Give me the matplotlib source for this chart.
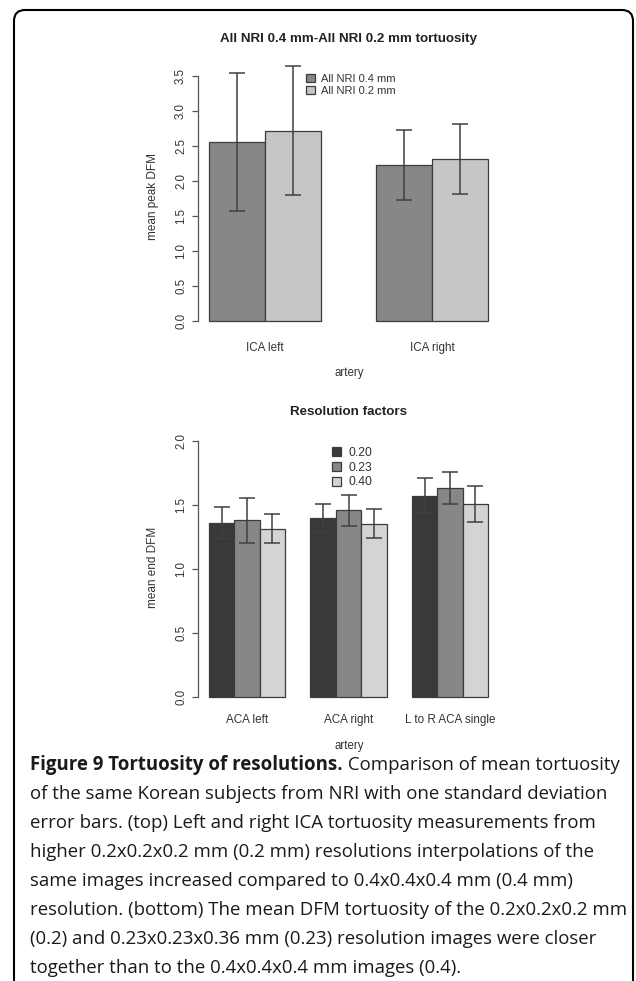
import matplotlib
matplotlib.use("Agg")
import matplotlib.pyplot as plt
import numpy as np
from matplotlib.patches import PathPatch
from matplotlib.path import Path

# top panel data
top_groups = ["ICA left", "ICA right"]
top_series = ["All NRI 0.4 mm", "All NRI 0.2 mm"]
top_means_04 = [2.56, 2.23]
top_sd_04 = [0.99, 0.50]
top_means_02 = [2.72, 2.31]
top_sd_02 = [0.92, 0.50]

# bottom panel data
bot_groups = ["ACA left", "ACA right", "L to R ACA single"]
bot_series = ["0.20", "0.23", "0.40"]
bot_means_020 = [1.365, 1.40, 1.575]
bot_sd_020 = [0.125, 0.11, 0.139]
bot_means_023 = [1.383, 1.46, 1.637]
bot_sd_023 = [0.177, 0.122, 0.125]
bot_means_040 = [1.318, 1.355, 1.511]
bot_sd_040 = [0.112, 0.114, 0.142]

caption_bold = "Figure 9 Tortuosity of resolutions."
caption_lines = [
    " Comparison of mean tortuosity",
    "of the same Korean subjects from NRI with one standard deviation",
    "error bars. (top) Left and right ICA tortuosity measurements from",
    "higher 0.2x0.2x0.2 mm (0.2 mm) resolutions interpolations of the",
    "same images increased compared to 0.4x0.4x0.4 mm (0.4 mm)",
    "resolution. (bottom) The mean DFM tortuosity of the 0.2x0.2x0.2 mm",
    "(0.2) and 0.23x0.23x0.36 mm (0.23) resolution images were closer",
    "together than to the 0.4x0.4x0.4 mm images (0.4).",
]

W, H = 636, 981
fig = plt.figure(figsize=(W / 100, H / 100), dpi=100)

def fx(x):
    return x / W

def fy(y):
    return 1 - y / H

plot_font = ["Liberation Sans", "DejaVu Sans"]
txt_col = "#333333"
ax_col = "#555555"


def barplot(ax, groups, series, means, sds, colors, ymax, yticks):
    n = len(series)
    # R barplot beside=TRUE: bar width 1, one bar gap between groups
    starts = np.arange(len(groups)) * (n + 1) + 1
    for i in range(n):
        xs = starts + i + 0.5
        ax.bar(xs, means[i], width=1.0, color=colors[i], edgecolor="#3c3c3c",
               linewidth=0.9, label=series[i], zorder=2)
        ax.errorbar(xs, means[i], yerr=sds[i], fmt="none", ecolor="#404040",
                    elinewidth=1.1, capsize=5.5, capthick=1.1, zorder=3,
                    clip_on=False)
    span = starts[-1] + n - starts[0]
    ax.set_xlim(starts[0] - 0.04 * span, starts[-1] + n + 0.04 * span)
    ax.set_xticks(starts + n / 2)
    ax.set_xticklabels(groups)
    ax.set_yticks(yticks)
    ax.set_yticklabels(["%.1f" % t for t in yticks])
    for s in ["top", "right", "bottom"]:
        ax.spines[s].set_visible(False)
    ax.spines["left"].set_bounds(0, ymax)
    ax.spines["left"].set_color(ax_col)
    ax.spines["left"].set_linewidth(0.9)
    ax.tick_params(axis="y", length=4.3, width=0.9, color=ax_col,
                   labelcolor=txt_col, labelsize=8.3, pad=3.6)
    for lab in ax.get_yticklabels():
        lab.set_rotation(90)
        lab.set_va("center")
        lab.set_family(plot_font)
    ax.tick_params(axis="x", length=0, labelcolor=txt_col, labelsize=8.4)
    for lab in ax.get_xticklabels():
        lab.set_family(plot_font)


# top panel
ax1 = fig.add_axes([fx(198), fy(331.5), (499 - 198) / W, (331.5 - 62) / H])
ax1.set_ylim(-0.15, 3.7)
barplot(ax1, top_groups, top_series,
        [top_means_04, top_means_02], [top_sd_04, top_sd_02],
        ["#878787", "#c6c6c6"], 3.5, np.arange(0, 3.51, 0.5))
ax1.tick_params(axis="x", pad=7.5)
leg1 = ax1.legend(loc="upper left", bbox_to_anchor=(fx(306), fy(74)),
                  bbox_transform=fig.transFigure, frameon=False,
                  prop={"family": plot_font, "size": 8},
                  handlelength=0.8, handleheight=0.7, handletextpad=0.55,
                  labelspacing=0.2, borderpad=0, borderaxespad=0)
for t in leg1.get_texts():
    t.set_color(txt_col)

fig.text(fx(349), fy(39), "All NRI 0.4 mm-All NRI 0.2 mm tortuosity",
         ha="center", va="center", fontsize=9.6, fontweight="bold",
         family=plot_font, color="#222222")
fig.text(fx(153), fy(197), "mean peak DFM", rotation=90, ha="center",
         va="center", fontsize=8.5, family=plot_font, color=txt_col)
fig.text(fx(349), fy(373), "artery", ha="center", va="center",
         fontsize=8.3, family=plot_font, color=txt_col)

# bottom panel
ax2 = fig.add_axes([fx(198), fy(707.2), (499 - 198) / W, (707.2 - 431.2) / H])
ax2.set_ylim(-0.08, 2.08)
barplot(ax2, bot_groups, bot_series,
        [bot_means_020, bot_means_023, bot_means_040],
        [bot_sd_020, bot_sd_023, bot_sd_040],
        ["#3a3838", "#878787", "#d4d4d4"], 2.0, np.arange(0, 2.01, 0.5))
ax2.tick_params(axis="x", pad=5)
leg2 = ax2.legend(loc="upper left", bbox_to_anchor=(fx(332), fy(447)),
                  bbox_transform=fig.transFigure, frameon=False,
                  prop={"family": plot_font, "size": 8.8},
                  handlelength=0.75, handleheight=0.75, handletextpad=0.6,
                  labelspacing=0.22, borderpad=0, borderaxespad=0)
for t in leg2.get_texts():
    t.set_color(txt_col)

fig.text(fx(349), fy(412), "Resolution factors", ha="center", va="center",
         fontsize=9.6, fontweight="bold", family=plot_font, color="#222222")
fig.text(fx(153), fy(567), "mean end DFM", rotation=90, ha="center",
         va="center", fontsize=8.5, family=plot_font, color=txt_col)
fig.text(fx(349), fy(746), "artery", ha="center", va="center",
         fontsize=8.3, family=plot_font, color=txt_col)

# frame with rounded top corners, open at bottom
l, r, t, rad = 14, 633, 10, 11
verts = [(l, H), (l, t + rad), (l, t), (l + rad, t), (r - rad, t), (r, t),
         (r, t + rad), (r, H)]
codes = [Path.MOVETO, Path.LINETO, Path.CURVE3, Path.CURVE3, Path.LINETO,
         Path.CURVE3, Path.CURVE3, Path.LINETO]
verts = [(fx(x), fy(y)) for x, y in verts]
fig.patches.append(PathPatch(Path(verts, codes), transform=fig.transFigure,
                             fill=False, edgecolor="black", linewidth=1.5))

# caption, sized so the widest line spans the text column
cap_font = ["Open Sans", "DejaVu Sans"]
cap_col = "#1a1a1a"
x0, y0, dy = 30, 765, 29
target_w = 597
renderer = fig.canvas.get_renderer()


def line_width(parts, size):
    w = 0
    for txt, weight in parts:
        p = fig.text(0, 0, txt, fontsize=size, fontweight=weight,
                     family=cap_font)
        w += p.get_window_extent(renderer).width
        p.remove()
    return w


widths = [line_width([(caption_bold, "bold"), (caption_lines[0], "normal")], 10)]
widths += [line_width([(s, "normal")], 10) for s in caption_lines[1:]]
cap_size = 10 * target_w / max(widths)

tb = fig.text(fx(x0), fy(y0), caption_bold, ha="left", va="center",
              fontsize=cap_size, fontweight="bold", family=cap_font,
              color=cap_col)
bb = tb.get_window_extent(renderer)
fig.text(bb.x1 / W, fy(y0), caption_lines[0], ha="left", va="center",
         fontsize=cap_size, family=cap_font, color=cap_col)
for i, line in enumerate(caption_lines[1:], start=1):
    fig.text(fx(x0), fy(y0 + i * dy), line, ha="left", va="center",
             fontsize=cap_size, family=cap_font, color=cap_col)

fig.savefig("out.png", dpi=100)
